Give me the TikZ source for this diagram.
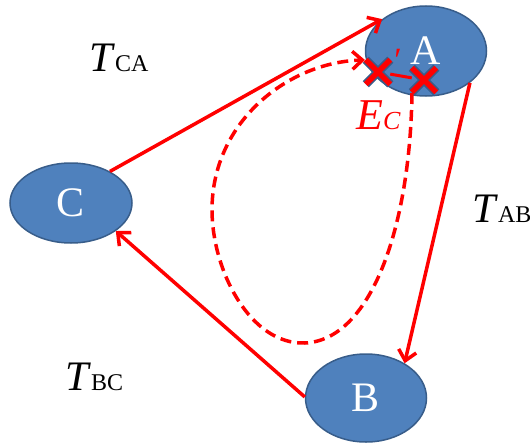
\documentclass[tikz,border=0pt]{standalone}
\usepackage{fontspec}
\setmainfont{Liberation Serif}
\usetikzlibrary{arrows.meta,shapes.geometric,shapes.misc}
\definecolor{nodeblue}{HTML}{4F81BD}
\definecolor{nodeedge}{HTML}{385D8A}
\definecolor{xred}{HTML}{FF0000}
\begin{document}
\begin{tikzpicture}[x=1pt,y=-1pt,
  state/.style={ellipse, draw=nodeedge, line width=1.5pt, fill=nodeblue, text=white,
    font=\fontsize{42}{42}\selectfont, inner sep=0pt},
  edge/.style={draw=xred, line width=3.5pt, -{Straight Barb[length=10pt,width=18pt]}},
  dashedge/.style={edge, dash pattern=on 11pt off 6pt},
  xmark/.style={cross out, draw=xred, line width=5.5pt, minimum size=19pt, inner sep=0pt,
    preaction={draw=nodeedge, line width=8.5pt}},
  lab/.style={font=\fontsize{42}{42}\selectfont, anchor=base west, inner sep=0pt}
]
\path[use as bounding box] (0,0) rectangle (530,444);
\node[state, minimum width=121pt, minimum height=90pt] (A) at (426,51) {A};
\node[state, minimum width=122pt, minimum height=80pt] (C) at (71,203) {C};
\node[state, minimum width=121pt, minimum height=88pt] (B) at (366,398) {B};

\draw[edge] (C.39) -- (A.144);
\draw[edge] (A.-36) -- (B.42);
\draw[edge] (B.179) -- (C.-32);

\node[lab] (tca) at (89,71) {\textit{T}{\fontsize{24}{24}\selectfont CA}};
\node[lab] (tab) at (472,222) {\textit{T}{\fontsize{24}{24}\selectfont AB}};
\node[lab] (tbc) at (65,390) {\textit{T}{\fontsize{24}{24}\selectfont BC}};

\coordinate (ds) at (412,93);
\coordinate (de) at (365,60);
\draw[dashedge] (ds) .. controls (410,230) and (370,340) .. (305,343)
  .. controls (250,345) and (212,270) .. (212,210)
  .. controls (212,120) and (290,62) .. (de);

\node[xmark] (X1) at (378,72) {};
\node[xmark] (X2) at (424,80) {};
\draw[draw=xred, line width=3pt] (X1) -- (X2);
\node[text=xred, font=\fontsize{34}{34}\selectfont, inner sep=0pt] (pr) at (398,60) {′};

\node[lab, text=xred, font=\fontsize{44}{44}\selectfont] (ec) at (356,129)
  {\textit{E}{\fontsize{26}{26}\selectfont\textit{C}}};
\end{tikzpicture}
\end{document}
